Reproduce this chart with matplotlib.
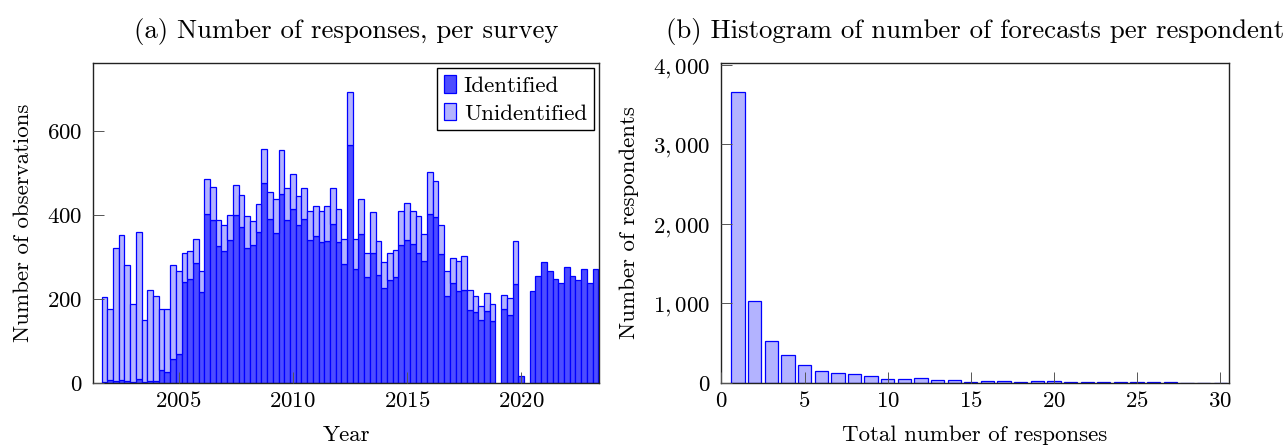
import numpy as np
import pandas as pd
import matplotlib
matplotlib.use("Agg")
import matplotlib.pyplot as plt

plt.rcParams['font.family'] = 'serif'
plt.rcParams['font.serif'] = ['cmr10', 'DejaVu Serif']
plt.rcParams['mathtext.fontset'] = 'cm'
plt.rcParams['axes.formatter.use_mathtext'] = True

# Panel (a): quarterly surveys, 2001Q4 - 2023Q2 (nan = no survey)
quarters = pd.period_range('2001Q4', '2023Q2', freq='Q')
identified = [3, 6, 5, 8, 5, 3, 10, 3, 5, 5, 30, 25, 58, 68, 241, 248, 285, 217,
              403, 387, 327, 314, 341, 400, 370, 320, 328, 360, 476, 391, 356, 450,
              387, 415, 376, 389, 340, 350, 335, 338, 379, 336, 283, 567, 270, 354,
              253, 310, 258, 225, 244, 252, 329, 340, 331, 310, 291, 401, 394, 308,
              207, 237, 219, 221, 173, 168, 149, 171, 147, np.nan, 175, 161, 235, 16,
              np.nan, 220, 255, 287, 266, 248, 237, 275, 254, 246, 270, 237, 272]
unidentified = [202, 169, 317, 345, 275, 185, 348, 148, 216, 201, 145, 152, 223, 199,
                69, 67, 58, 49, 82, 80, 60, 63, 59, 72, 78, 78, 58, 65, 80, 64, 82,
                104, 78, 82, 70, 75, 68, 72, 73, 82, 84, 79, 59, 126, 73, 83, 57, 96,
                79, 63, 65, 65, 81, 89, 79, 88, 63, 100, 87, 69, 60, 61, 72, 81, 48,
                38, 35, 44, 40, np.nan, 34, 41, 103, 0, np.nan, 0, 0, 0, 0, 0, 0, 0,
                0, 0, 0, 0, 0]

# Panel (b): histogram of responses per respondent
n_responses = np.arange(1, 31)
n_respondents = [3663, 1036, 533, 352, 231, 155, 126, 113, 92, 55, 45, 57, 38, 38,
                 17, 29, 21, 17, 21, 20, 15, 10, 9, 8, 8, 7, 7, 6, 6, 6]

dark = '#4d4dff'
light = '#b3b3ff'
edge = '#0000ff'
fs_title = 19.3
fs = 16.5

fig = plt.figure(figsize=(12.84, 4.47), dpi=100)
ax1 = fig.add_axes([0.0728, 0.1432, 0.3941, 0.7166])
ax2 = fig.add_axes([0.5619, 0.1432, 0.3949, 0.7166])

# --- left panel
x = np.array([q.year + (q.quarter - 1) / 4 for q in quarters])
ident = np.array(identified, dtype=float)
unid = np.array(unidentified, dtype=float)
ok = ~np.isnan(ident)
ax1.bar(x[ok], ident[ok], width=0.25, color=dark, edgecolor=edge, linewidth=0.9,
        label='Identified')
has_u = ok & (unid > 0)
ax1.bar(x[has_u], unid[has_u], bottom=ident[has_u], width=0.25, color=light,
        edgecolor=edge, linewidth=0.9, label='Unidentified')
ax1.set_xlim(2001.27, 2023.43)
ax1.set_ylim(0, 762)
ax1.set_xticks([2005, 2010, 2015, 2020])
ax1.set_yticks([0, 200, 400, 600])
ax1.set_xlabel('Year', fontsize=fs, labelpad=10)
ax1.set_ylabel('Number of observations', fontsize=fs, labelpad=10)
ax1.set_title('(a) Number of responses, per survey', fontsize=fs_title, pad=18)
leg = ax1.legend(loc='upper right', fontsize=fs, fancybox=False, edgecolor='black',
                 framealpha=1, handlelength=0.5, handleheight=0.8, handletextpad=0.35,
                 borderaxespad=0.25, borderpad=0.3, labelspacing=0.3)
leg.get_frame().set_linewidth(1.0)

# --- right panel
ax2.bar(n_responses, n_respondents, width=0.8, color=light, edgecolor=edge,
        linewidth=0.9)
ax2.set_xlim(0, 30.5)
ax2.set_ylim(0, 3663 * 1.1)
ax2.set_xticks([0, 5, 10, 15, 20, 25, 30])
ax2.set_yticks([0, 1000, 2000, 3000, 4000])
ax2.set_yticklabels(['$0$', '$1,000$', '$2,000$', '$3,000$', '$4,000$'])
ax2.set_xlabel('Total number of responses', fontsize=fs, labelpad=10)
ax2.set_ylabel('Number of respondents', fontsize=fs, labelpad=10)
ax2.set_title('(b) Histogram of number of forecasts per respondent', fontsize=fs_title, pad=18)

for ax in (ax1, ax2):
    ax.tick_params(direction='in', length=8, width=0.7, color='#555555',
                   labelsize=fs)
    ax.tick_params(axis='x', pad=6)
    ax.tick_params(axis='y', pad=8)
    for s in ax.spines.values():
        s.set_linewidth(1.0)
        s.set_color('#222222')
    ax.set_axisbelow(False)

fig.savefig('out.png', dpi=100)
